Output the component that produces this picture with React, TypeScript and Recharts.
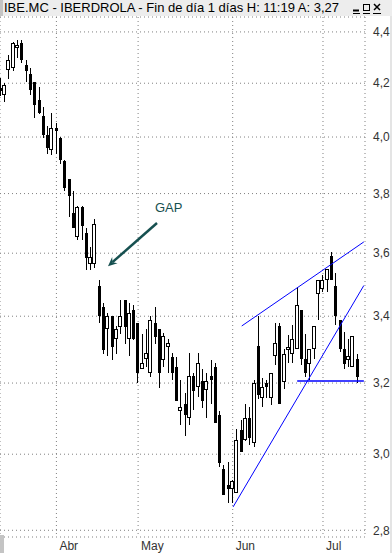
import React from "react";
import { ComposedChart, Bar, XAxis, YAxis, CartesianGrid, ReferenceLine } from "recharts";

// IBE.MC daily sessions, 14/03/2012 .. 12/07/2012
const dates = [
  "14/03", "15/03", "16/03", "19/03", "20/03", "21/03", "22/03", "23/03", "26/03", "27/03", "28/03", "29/03", "30/03",
  "02/04", "03/04", "04/04", "05/04", "10/04", "11/04", "12/04", "13/04", "16/04", "17/04", "18/04", "19/04", "20/04",
  "23/04", "24/04", "25/04", "26/04", "27/04", "30/04",
  "02/05", "03/05", "04/05", "07/05", "08/05", "09/05", "10/05", "11/05", "14/05", "15/05", "16/05", "17/05", "18/05",
  "21/05", "22/05", "23/05", "24/05", "25/05", "28/05", "29/05", "30/05", "31/05",
  "01/06", "04/06", "05/06", "06/06", "07/06", "08/06", "11/06", "12/06", "13/06", "14/06", "15/06", "18/06", "19/06",
  "20/06", "21/06", "22/06", "25/06", "26/06", "27/06", "28/06", "29/06",
  "02/07", "03/07", "04/07", "05/07", "06/07", "09/07", "10/07", "11/07", "12/07",
];

const opens = [
  4.18, 4.157, 4.25, 4.257, 4.336, 4.355, 4.27, 4.236, 4.205, 4.137,
  4.077, 4.009, 3.953, 4.034, 3.997, 3.913, 3.85, 3.734, 3.653, 3.755,
  3.665, 3.566, 3.566, 3.496, 3.43, 3.36, 3.4, 3.33, 3.368, 3.45,
  3.33, 3.419, 3.378, 3.24, 3.27, 3.228, 3.378, 3.36, 3.268, 3.307,
  3.278, 3.248, 3.12, 3.14, 3.1, 3.22, 3.188, 3.205, 3.179, 3.22,
  3.248, 3.108, 2.96, 2.918, 2.908, 2.895, 3.068, 3.039, 3.1, 3.03,
  3.31, 3.158, 3.2, 3.158, 3.28, 3.37, 3.204, 3.297, 3.286, 3.3,
  3.419, 3.27, 3.255, 3.3, 3.468, 3.486, 3.515, 3.59, 3.496, 3.388,
  3.3, 3.267, 3.248, 3.27,
];

const highs = [
  4.22, 4.2, 4.31, 4.36, 4.368, 4.368, 4.29, 4.258, 4.205, 4.185,
  4.11, 4.04, 4.088, 4.052, 4.0, 3.919, 3.85, 3.81, 3.758, 3.758,
  3.684, 3.62, 3.714, 3.515, 3.44, 3.41, 3.4, 3.37, 3.45, 3.45,
  3.44, 3.435, 3.378, 3.347, 3.36, 3.4, 3.428, 3.36, 3.35, 3.33,
  3.287, 3.278, 3.208, 3.17, 3.287, 3.228, 3.287, 3.24, 3.228, 3.267,
  3.258, 3.12, 2.97, 2.98, 2.93, 3.069, 3.094, 3.14, 3.13, 3.21,
  3.4, 3.214, 3.21, 3.23, 3.378, 3.378, 3.3, 3.342, 3.373, 3.49,
  3.419, 3.347, 3.3, 3.37, 3.515, 3.53, 3.55, 3.603, 3.535, 3.388,
  3.352, 3.33, 3.34, 3.284,
];

const lows = [
  4.15, 4.128, 4.215, 4.245, 4.296, 4.276, 4.205, 4.157, 4.07, 4.085,
  3.997, 3.94, 3.937, 3.94, 3.902, 3.808, 3.72, 3.684, 3.642, 3.642,
  3.545, 3.545, 3.553, 3.378, 3.285, 3.28, 3.267, 3.285, 3.347, 3.315,
  3.28, 3.327, 3.2, 3.24, 3.248, 3.218, 3.315, 3.186, 3.248, 3.228,
  3.208, 3.149, 3.08, 3.05, 3.08, 3.122, 3.16, 3.127, 3.1, 3.14,
  3.086, 2.965, 2.89, 2.87, 2.87, 2.895, 3.007, 3.036, 3.025, 3.02,
  3.155, 3.131, 3.158, 3.136, 3.252, 3.14, 3.183, 3.258, 3.258, 3.3,
  3.252, 3.218, 3.208, 3.272, 3.388, 3.477, 3.477, 3.515, 3.373, 3.29,
  3.242, 3.248, 3.248, 3.2,
];

const closes = [
  4.17, 4.192, 4.29, 4.355, 4.348, 4.29, 4.245, 4.175, 4.119, 4.088,
  4.009, 3.961, 4.034, 4.022, 3.919, 3.82, 3.79, 3.684, 3.755, 3.69,
  3.585, 3.586, 3.695, 3.401, 3.297, 3.4, 3.307, 3.36, 3.4, 3.368,
  3.41, 3.33, 3.228, 3.258, 3.287, 3.388, 3.338, 3.228, 3.34, 3.317,
  3.228, 3.149, 3.13, 3.108, 3.22, 3.177, 3.258, 3.149, 3.205, 3.208,
  3.086, 2.975, 2.89, 2.908, 2.928, 3.039, 3.007, 3.1, 3.045, 3.2,
  3.165, 3.188, 3.19, 3.228, 3.317, 3.14, 3.286, 3.305, 3.33, 3.435,
  3.27, 3.228, 3.3, 3.37, 3.515, 3.515, 3.55, 3.515, 3.4, 3.3,
  3.255, 3.28, 3.34, 3.218,
];

const priceTicks = [2.8, 3.0, 3.2, 3.4, 3.6, 3.8, 4.0, 4.2, 4.4];
const monthLabels = ["Abr", "May", "Jun", "Jul"];
const monthStarts = ["02/04", "02/05", "01/06", "02/07"];

// hand-drawn lines, in (session index, price)
const channelTop = [{ x: 56.1, y: 3.37 }, { x: 84.5, y: 3.637 }];
const channelBottom = [{ x: 54.1, y: 2.86 }, { x: 84.5, y: 3.496 }];
const support = [{ x: 69.0, y: 3.206 }, { x: 84.5, y: 3.206 }];
const gapArrow = [{ x: 36.4, y: 3.7 }, { x: 25.0, y: 3.558 }];

const data = dates.map((d, i) => ({ i, d, o: opens[i], h: highs[i], l: lows[i], c: closes[i] }));
const monthTicks = monthStarts.map((m) => dates.indexOf(m));

const FONT = "'Liberation Sans', Arial, sans-serif";
const TEAL = "#165050";

function Candle(props: any) {
  const { x, y, width, height, payload } = props;
  const { o, h, l, c } = payload;
  const span = Math.log(h / l);
  const py = (p: number) => y + (height * Math.log(h / p)) / span;
  const col = Math.floor(x + width / 2);
  const wx = col + 0.5;
  const hi = Math.round(y);
  const lo = Math.round(y + height);
  const top = Math.round(py(Math.max(o, c)));
  const bot = Math.max(Math.round(py(Math.min(o, c))), top + 2);
  if (c >= o) {
    return (
      <g>
        <line x1={wx} x2={wx} y1={hi} y2={top} stroke="#000" />
        <line x1={wx} x2={wx} y1={bot} y2={lo} stroke="#000" />
        <rect x={col - 1.5} y={top + 0.5} width={3} height={bot - top - 1} fill="#fff" stroke="#000" />
      </g>
    );
  }
  return (
    <g>
      <line x1={wx} x2={wx} y1={hi} y2={lo} stroke="#000" />
      <rect x={col - 1} y={top} width={3} height={bot - top} fill="#000" />
    </g>
  );
}

function Arrow(props: any) {
  const { x1, y1, x2, y2 } = props;
  const a = Math.atan2(y2 - y1, x2 - x1);
  const len = 10;
  const s = 0.42;
  const pA = [x2 - len * Math.cos(a - s), y2 - len * Math.sin(a - s)];
  const pB = [x2 - len * Math.cos(a + s), y2 - len * Math.sin(a + s)];
  const pM = [x2 - 6 * Math.cos(a), y2 - 6 * Math.sin(a)];
  return (
    <g>
      <line x1={x1} y1={y1} x2={pM[0]} y2={pM[1]} stroke={TEAL} strokeWidth={2.5} />
      <polygon points={`${x2},${y2} ${pA[0]},${pA[1]} ${pM[0]},${pM[1]} ${pB[0]},${pB[1]}`} fill={TEAL} />
      <text x={x1 - 2} y={y1 - 11} fontSize={13} fill={TEAL} fontFamily={FONT}>
        GAP
      </text>
    </g>
  );
}

function MonthTick(props: any) {
  const { x, y, payload } = props;
  const k = monthTicks.indexOf(payload.value);
  return (
    <text x={x + 3} y={y + 13} fontSize={12} fill="#333" fontFamily={FONT}>
      {monthLabels[k]}
    </text>
  );
}

export default function App() {
  return (
    <div style={{ position: "relative", width: 392, height: 553, overflow: "hidden", background: "#fff" }}>
      <style>{"body{margin:0}"}</style>
      <ComposedChart width={392} height={553} data={data} margin={{ top: 17, right: 0, bottom: 0, left: 0 }}>
        <CartesianGrid strokeDasharray="1 3" stroke="#808080" />
        <XAxis
          type="number"
          dataKey="i"
          domain={[-0.116, 84.77]}
          allowDataOverflow
          ticks={monthTicks}
          interval={0}
          axisLine={false}
          tickLine={false}
          tickSize={0}
          tickMargin={0}
          height={16}
          tick={<MonthTick />}
        />
        <YAxis
          orientation="right"
          scale="log"
          domain={[2.783, 4.46]}
          allowDataOverflow
          ticks={priceTicks}
          interval={0}
          axisLine={false}
          tickLine={false}
          tickSize={0}
          tickMargin={8}
          width={27}
          tick={{ fontSize: 12, fill: "#333", fontFamily: FONT }}
          tickFormatter={(v: number) => v.toFixed(1).replace(".", ",")}
        />
        <Bar dataKey={(d: any) => [d.l, d.h]} barSize={4} shape={<Candle />} isAnimationActive={false} />
        <ReferenceLine segment={channelTop} stroke="#0000ff" strokeWidth={1} ifOverflow="visible" />
        <ReferenceLine segment={channelBottom} stroke="#0000ff" strokeWidth={1} ifOverflow="visible" />
        <ReferenceLine segment={support} stroke="#0000ff" strokeWidth={1.5} ifOverflow="visible" />
        <ReferenceLine segment={gapArrow} shape={<Arrow />} ifOverflow="visible" />
      </ComposedChart>
      <div
        style={{
          position: "absolute",
          left: 0,
          top: 0,
          width: 392,
          height: 16,
          background: "#ededed",
          fontFamily: FONT,
          fontSize: 13,
          lineHeight: "15px",
          whiteSpace: "nowrap",
        }}
      >
        <div style={{ position: "absolute", left: 0, top: 0, width: 3, height: 16, background: "#c4c4c4" }} />
        <span style={{ position: "absolute", left: 4, top: 0 }}>IBE.MC - IBERDROLA - Fin de día 1 días H: 11:19 A: 3,27</span>
        <svg width={40} height={16} style={{ position: "absolute", left: 350, top: 0 }}>
          <line x1={3} x2={9} y1={10.5} y2={10.5} stroke="#000" strokeWidth={2} />
          <rect x={13.5} y={4.5} width={6} height={6} fill="none" stroke="#000" />
          <line x1={24} x2={30} y1={4} y2={10} stroke="#000" strokeWidth={1.5} />
          <line x1={30} x2={24} y1={4} y2={10} stroke="#000" strokeWidth={1.5} />
          <line x1={3} x2={10} y1={13.5} y2={13.5} stroke="#000" />
          <line x1={13} x2={20} y1={13.5} y2={13.5} stroke="#000" />
          <line x1={23} x2={31} y1={13.5} y2={13.5} stroke="#000" />
        </svg>
      </div>
      <div style={{ position: "absolute", right: 0, top: 16, width: 2, height: 537, background: "#e4e4e4" }} />
      <div style={{ position: "absolute", left: 0, top: 535, width: 4, height: 18, background: "#c4c4c4" }} />
    </div>
  );
}
